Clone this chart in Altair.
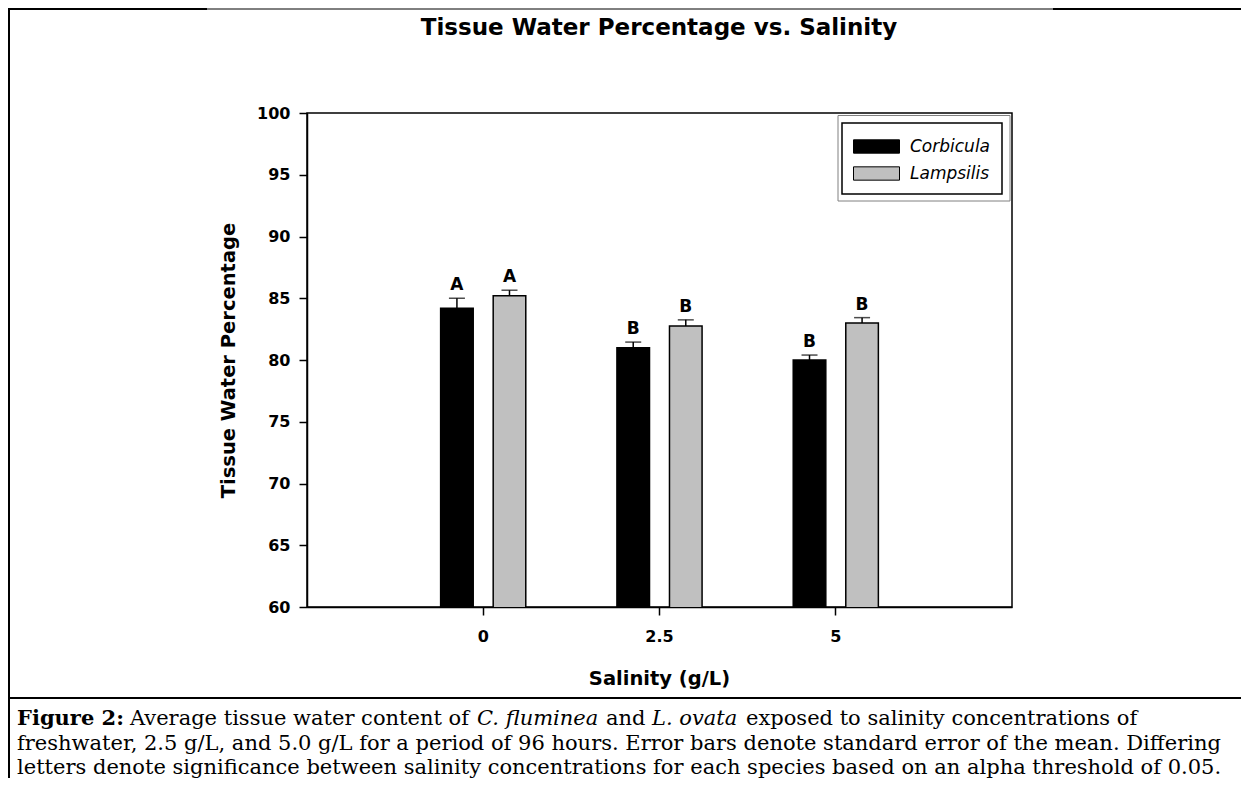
import altair as alt
import pandas as pd

# ---------------- data ----------------
salinity = ["0", "2.5", "5"]
species = ["Corbicula", "Lampsilis"]
corbicula_mean = [84.2, 81.0, 80.0]
corbicula_se = [0.8, 0.45, 0.4]
lampsilis_mean = [85.2, 82.75, 83.0]
lampsilis_se = [0.45, 0.5, 0.43]
corbicula_letters = ["A", "B", "B"]
lampsilis_letters = ["A", "B", "B"]
y_ticks = [60, 65, 70, 75, 80, 85, 90, 95, 100]

title_text = "Tissue Water Percentage vs. Salinity"
x_title = "Salinity (g/L)"
y_title = "Tissue Water Percentage"
cap_line1 = ["Figure 2:", "Average tissue water content of", "C. fluminea", "and", "L. ovata",
             "exposed to salinity concentrations of"]
cap_line2 = "freshwater, 2.5 g/L, and 5.0 g/L for a period of 96 hours. Error bars denote standard error of the mean. Differing"
cap_line3 = "letters denote significance between salinity concentrations for each species based on an alpha threshold of 0.05."

rows = []
for i, s in enumerate(salinity):
    rows.append({"salinity": s, "species": species[0], "mean": corbicula_mean[i],
                 "upper": corbicula_mean[i] + corbicula_se[i], "letter": corbicula_letters[i]})
    rows.append({"salinity": s, "species": species[1], "mean": lampsilis_mean[i],
                 "upper": lampsilis_mean[i] + lampsilis_se[i], "letter": lampsilis_letters[i]})
df = pd.DataFrame(rows)

SANS = "DejaVu Sans"
SERIF = "DejaVu Serif"

x_enc = alt.X("salinity:N", sort=salinity,
              scale=alt.Scale(domain=salinity, paddingInner=0.517, paddingOuter=0.758),
              axis=alt.Axis(title=x_title, labelAngle=0, labelPadding=13,
                            titleX=352, titleY=71, titleBaseline="middle",
                            titleFontSize=19.5, titleFont=SANS, titleFontWeight="bold"))
xo_enc = alt.XOffset("species:N", sort=species,
                     scale=alt.Scale(domain=species, paddingInner=0.38, paddingOuter=0))
y_scale = alt.Scale(domain=[60, 100], nice=False, zero=False)

base = alt.Chart(df)

bars = base.mark_bar(stroke="black", strokeWidth=1.5, clip=True).encode(
    x=x_enc,
    xOffset=xo_enc,
    y=alt.Y("mean:Q", scale=y_scale,
            axis=alt.Axis(title=y_title, values=y_ticks, labelPadding=9,
                          titleX=-79, titleY=247, titleBaseline="middle",
                          titleFontSize=19.5, titleFont=SANS, titleFontWeight="bold")),
    color=alt.Color("species:N", sort=species,
                    scale=alt.Scale(domain=species, range=["#000000", "#c0c0c0"]),
                    legend=alt.Legend(title=None, orient="none", legendX=535, legendY=10,
                                      direction="vertical",
                                      symbolType="M-2,-0.58H2V0.58H-2Z", symbolSize=529,
                                      symbolStrokeColor="black", symbolStrokeWidth=1,
                                      symbolOffset=11,
                                      labelFont=SANS, labelFontStyle="italic",
                                      labelFontSize=17, labelColor="black",
                                      labelOffset=21.5, rowPadding=6)),
)

err = base.mark_rule(color="black", strokeWidth=1.5).encode(
    x="salinity:N", xOffset="species:N", y="mean:Q", y2="upper:Q")

caps = base.mark_tick(color="black", thickness=1.5, size=16).encode(
    x="salinity:N", xOffset="species:N", y="upper:Q")

letters = base.mark_text(font=SANS, fontWeight="bold", fontSize=17, color="black",
                         baseline="alphabetic", dy=-8).encode(
    x="salinity:N", xOffset="species:N", y="upper:Q", text="letter:N")

one = alt.Data(values=[{"k": 0}])


def rule(x1, x2, y1, y2, w, color="black"):
    return alt.Chart(one).mark_rule(color=color, strokeWidth=w).encode(
        x=alt.value(x1), x2=alt.value(x2), y=alt.value(y1), y2=alt.value(y2))


def text(s, x, y, size, font, weight="normal", style="normal", align="left"):
    return alt.Chart(one).mark_text(font=font, fontSize=size, fontWeight=weight,
                                    fontStyle=style, align=align, baseline="alphabetic",
                                    color="black").encode(
        x=alt.value(x), y=alt.value(y), text=alt.value(s))


legend_outer = alt.Chart(one).mark_rect(fillOpacity=0, stroke="#808080", strokeWidth=1).encode(
    x=alt.value(531), x2=alt.value(703), y=alt.value(2.5), y2=alt.value(88))

CAP = 21
deco = [
    legend_outer,
    rule(-299, 940, 585, 585, 2),        # line above caption
    rule(-298, -298, -104, 665, 2),      # left frame
    rule(-299, -100, -104, -104, 2),     # top frame, thick left part
    rule(-100, 746, -104, -104, 1),      # top frame, thin middle
    rule(746, 940, -104, -104, 2),       # top frame, thick right part
    text(title_text, 352, -78, 23, SANS, weight="bold", align="center"),
    text(cap_line1[0], -290, 612, CAP, SERIF, weight="bold"),
    text(cap_line1[1], -177, 612, CAP, SERIF),
    text(cap_line1[2], 170, 612, CAP, SERIF, style="italic"),
    text(cap_line1[3], 299, 612, CAP, SERIF),
    text(cap_line1[4], 345, 612, CAP, SERIF, style="italic"),
    text(cap_line1[5], 439, 612, CAP, SERIF),
    text(cap_line2, -290, 637, CAP, SERIF),
    text(cap_line3, -290, 661, CAP, SERIF),
]

chart = alt.layer(bars, err, caps, letters, *deco).properties(
    width=705, height=494,
    autosize=alt.AutoSizeParams(type="none"),
    padding={"left": 299, "top": 105, "right": 229, "bottom": 171},
).configure_view(
    stroke="black", strokeWidth=1.5
).configure_axis(
    domainColor="black", domainWidth=1.5, tickColor="black", tickWidth=1.5, tickSize=8,
    labelFont=SANS, labelFontWeight="bold", labelFontSize=16, labelColor="black",
    titleColor="black", grid=False
).configure_legend(
    strokeColor="black", strokeWidth=1.5, fillColor="white", padding=11.5
)

chart.save("out.html", embed_options={"renderer": "svg", "actions": False})
